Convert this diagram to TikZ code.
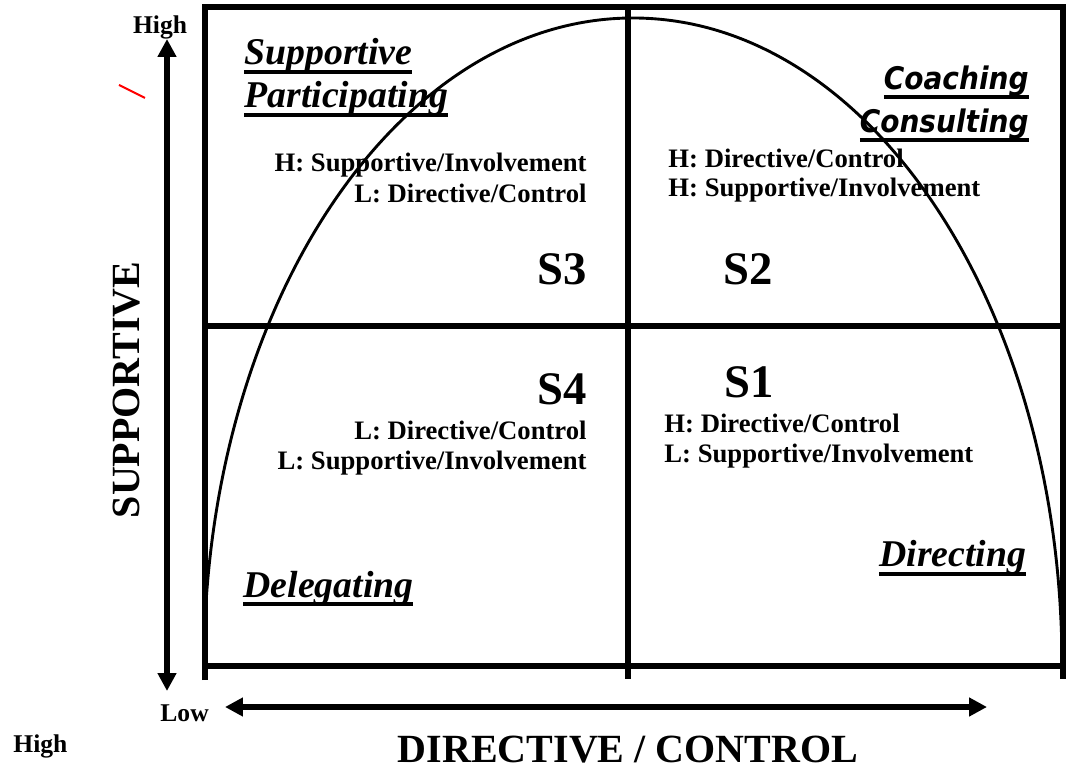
\documentclass[tikz,border=0pt]{standalone}
\usepackage{fontspec}
\setmainfont{Liberation Serif}
\newfontfamily\coachfont{DejaVu Sans Condensed}
\usepackage{tikz}
\usetikzlibrary{arrows.meta}
\definecolor{MarkRed}{HTML}{FF0000}
% underline that cuts through the descenders
\newsavebox{\ulbox}
\newcommand{\ul}[1]{\sbox{\ulbox}{#1}\rlap{\rule[-4.1pt]{\wd\ulbox}{1.8pt}}\usebox{\ulbox}}

\begin{document}
\begin{tikzpicture}[x=0.45pt, y=-0.45pt,
    frame/.style={line width=2.5pt, line join=miter},
    axis/.style={line width=2.6pt,
        {Triangle[length=8pt,width=8pt]}-{Triangle[length=8pt,width=8pt]}},
    level/.style={inner sep=0pt, font=\bfseries\fontsize{21}{25}\selectfont},
    info/.style={inner sep=0pt, font=\bfseries\fontsize{12}{14}\selectfont},
    mode/.style={inner sep=0pt, font=\bfseries\itshape\fontsize{17}{20}\selectfont},
    coach/.style={inner sep=0pt, font=\coachfont\bfseries\itshape\fontsize{14}{17}\selectfont},
    ends/.style={inner sep=0pt, font=\bfseries\fontsize{11.5}{13}\selectfont},
    title/.style={inner sep=0pt, font=\bfseries\fontsize{18}{21}\selectfont}]
\useasboundingbox (0,0) rectangle (1067,769);

% quadrant frame
\draw[frame] (205,680) |- (1063,7) -- (1063,679);
\draw[frame] (205,666) -- (1063,666);
\draw[frame] (205,326) -- (1063,326);
\draw[frame] (628,7) -- (628,679);

% half ellipse over the four quadrants
\draw[line width=1.3pt] (204,666) arc[start angle=180, end angle=360, x radius=429, y radius=648];

% axes
\coordinate (ytop) at (167,39);
\coordinate (ybot) at (167,691);
\coordinate (xlow) at (225,707);
\coordinate (xhigh) at (987,707);
\draw[axis] (ybot) -- (ytop);
\draw[axis] (xlow) -- (xhigh);

\node[ends, anchor=base] (highy) at (160,34) {High};
\node[ends, anchor=base west] (lowx) at (160,721) {Low};
\node[ends, anchor=base west] (highx) at (13,752) {High};
\node[title, rotate=90] (supp) at (127,390) {SUPPORTIVE};
\node[title, anchor=base] (dirc) at (628,762) {DIRECTIVE / CONTROL};

\draw[MarkRed, line width=0.9pt] (119,85) -- (145,98);

% S3
\node[mode, anchor=base west] (s3a) at (244,65) {\ul{Supportive}};
\node[mode, anchor=base west] (s3b) at (244,108) {\ul{Participating}};
\node[info, anchor=base east] (s3h) at (587,172) {H: Supportive/Involvement};
\node[info, anchor=base east] (s3l) at (587,203) {L: Directive/Control};
\node[level, anchor=base east] (s3) at (587,285) {S3};

% S2
\node[coach, anchor=base east] (s2a) at (1029,90) {\ul{Coaching}};
\node[coach, anchor=base east] (s2b) at (1029,133) {\ul{Consulting}};
\node[info, anchor=base west] (s2h) at (668,168) {H: Directive/Control};
\node[info, anchor=base west] (s2l) at (668,197) {H: Supportive/Involvement};
\node[level, anchor=base west] (s2) at (723,285) {S2};

% S4
\node[level, anchor=base east] (s4) at (587,405) {S4};
\node[info, anchor=base east] (s4h) at (587,440) {L: Directive/Control};
\node[info, anchor=base east] (s4l) at (587,470) {L: Supportive/Involvement};
\node[mode, anchor=base west] (s4a) at (243,597) {\ul{Delegating}};

% S1
\node[level, anchor=base west] (s1) at (724,398) {S1};
\node[info, anchor=base west] (s1h) at (664,433) {H: Directive/Control};
\node[info, anchor=base west] (s1l) at (664,463) {L: Supportive/Involvement};
\node[mode, anchor=base west] (s1a) at (879,567) {\ul{Directing}};
\end{tikzpicture}
\end{document}
